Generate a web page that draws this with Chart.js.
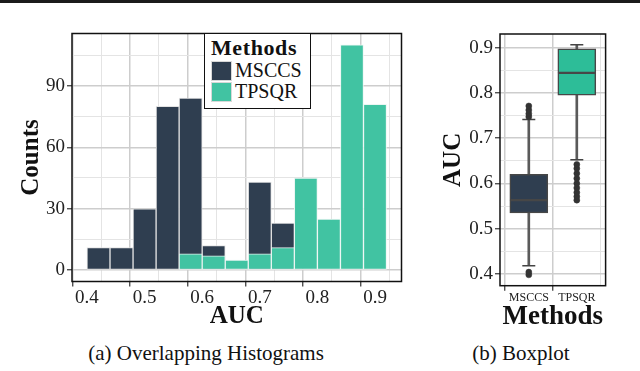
<!DOCTYPE html>
<html>
<head>
<meta charset="utf-8">
<script src="https://cdn.jsdelivr.net/npm/chart.js@4.4.1/dist/chart.umd.min.js"></script>
<style>
  body { margin: 0; background: #fff; width: 640px; height: 371px; position: relative; overflow: hidden; font-family: "Liberation Serif", serif; color: #111; }
  .rule { position: absolute; left: 0; top: 0; width: 640px; height: 3px; background: #1b1b1b; }
  #histCanvas { position: absolute; left: 0; top: 0; }
  #boxCanvas { position: absolute; left: 420px; top: 0; }
  .caption { position: absolute; top: 343px; font-size: 21px; line-height: 21px; transform: translateX(-50%); white-space: nowrap; }
  #legend { position: absolute; left: 204px; top: 33px; width: 107px; height: 76px; box-sizing: border-box; border: 1.5px solid #111; background: #fff; padding: 3px 0 0 6px; }
  #legend .title { font-weight: bold; font-size: 22px; line-height: 22px; letter-spacing: 0.6px; margin-bottom: 1px; }
  #legend .row { display: flex; align-items: center; height: 21px; font-size: 20px; }
  #legend .sw { width: 21px; height: 20px; box-sizing: border-box; border: 1px solid #d8d8d8; margin-right: 3px; }
</style>
</head>
<body>
<div class="rule"></div>
<canvas id="histCanvas" width="415" height="335"></canvas>
<canvas id="boxCanvas" width="220" height="335"></canvas>
<div id="legend"></div>
<div class="caption" style="left:206px">(a) Overlapping Histograms</div>
<div class="caption" style="left:521px">(b) Boxplot</div>

<script>
// ---------------- data ----------------
const methods = ["MSCCS", "TPSQR"];
const methodColors = ["#2f3e50", "#41c3a2"];
const boxColors = ["#2f3e50", "#2dbd98"];

// histogram bins (width 0.04, from 0.40 to 0.92)
const binCenters = [0.42, 0.46, 0.50, 0.54, 0.58, 0.62, 0.66, 0.70, 0.74, 0.78, 0.82, 0.86, 0.90];
const msccsCounts = [11, 11, 30, 80, 84, 12, null, 43, 23, null, null, null, null];
const tpsqrCounts = [null, null, null, null, 8, 7, 5, 8, 11, 45, 25, 110, 81];

const histXTicks = [0.4, 0.5, 0.6, 0.7, 0.8, 0.9];
const histXMinor = [0.45, 0.55, 0.65, 0.75, 0.85];
const histYTicks = [0, 30, 60, 90];
const histYMinor = [15, 45, 75, 105];

// boxplot summaries
const boxLower = [0.418, 0.652];
const boxQ1 = [0.535, 0.795];
const boxMedian = [0.563, 0.844];
const boxQ3 = [0.620, 0.897];
const boxUpper = [0.741, 0.906];
const msccsOutliers = [0.398, 0.404, 0.747, 0.754, 0.762, 0.771];
const tpsqrOutliers = [0.563, 0.571, 0.580, 0.590, 0.600, 0.611, 0.622, 0.633, 0.642];

const boxYTicks = [0.4, 0.5, 0.6, 0.7, 0.8, 0.9];
const boxYMinor = [0.45, 0.55, 0.65, 0.75, 0.85];

// ---------------- helpers ----------------
const FONT = '"Liberation Serif", serif';
const MAJOR_GRID = "#cdcdcd";
const MINOR_GRID = "#e4e4e4";

function isIn(list, v) {
  return list.some((t) => Math.abs(t - v) < 1e-9);
}

const panelBorder = {
  id: "panelBorder",
  afterDatasetsDraw(chart) {
    const { ctx, chartArea: a } = chart;
    ctx.save();
    ctx.strokeStyle = "#111";
    ctx.lineWidth = 1.5;
    ctx.strokeRect(a.left, a.top, a.right - a.left, a.bottom - a.top);
    ctx.restore();
  }
};

function gridFor(major) {
  const maj = (c) => c.tick && isIn(major, c.tick.value);
  return {
    color: (c) => (maj(c) ? MAJOR_GRID : MINOR_GRID),
    lineWidth: (c) => (maj(c) ? 1.5 : 1),
    tickColor: (c) => (maj(c) ? "#333" : "rgba(0,0,0,0)"),
    tickLength: 5,
    tickWidth: 1.2
  };
}

function drawCharts() {
  // ---------------- histogram ----------------
  const histChart = new Chart(document.getElementById("histCanvas"), {
    type: "bar",
    data: {
      datasets: [
        {
          label: methods[0],
          data: binCenters.map((x, i) => ({ x, y: msccsCounts[i] })),
          backgroundColor: methodColors[0],
          borderColor: "rgba(225,225,225,0.95)",
          borderWidth: 1,
          borderSkipped: false,
          order: 1
        },
        {
          label: methods[1],
          data: binCenters.map((x, i) => ({ x, y: tpsqrCounts[i] })),
          backgroundColor: methodColors[1],
          borderColor: "rgba(235,245,242,0.95)",
          borderWidth: 1,
          borderSkipped: false,
          order: 0
        }
      ]
    },
    options: {
      responsive: false,
      animation: false,
      devicePixelRatio: 1,
      events: [],
      layout: { padding: { top: 33.5, right: 13.5, left: 0, bottom: 0 } },
      datasets: { bar: { grouped: false, barPercentage: 1, categoryPercentage: 1 } },
      plugins: { legend: { display: false }, tooltip: { enabled: false } },
      scales: {
        x: {
          type: "linear",
          offset: false,
          min: 0.374,
          max: 0.946,
          afterBuildTicks: (s) => { s.ticks = histXTicks.concat(histXMinor).sort((a, b) => a - b).map((v) => ({ value: v })); },
          afterFit: (s) => { s.height = 53.5; },
          grid: gridFor(histXTicks),
          border: { display: false },
          ticks: {
            autoSkip: false,
            maxRotation: 0,
            padding: 0,
            color: "#222",
            font: { family: FONT, size: 19 },
            callback: (v) => (isIn(histXTicks, v) ? v.toFixed(1) : "")
          },
          title: { display: true, text: "AUC", color: "#111", font: { family: FONT, size: 25, weight: "bold" }, padding: { top: 0, bottom: 3.5 } }
        },
        y: {
          type: "linear",
          min: -5.5,
          max: 115.5,
          afterBuildTicks: (s) => { s.ticks = histYTicks.concat(histYMinor).sort((a, b) => a - b).map((v) => ({ value: v })); },
          afterFit: (s) => { s.width = 72; },
          grid: gridFor(histYTicks),
          border: { display: false },
          ticks: {
            autoSkip: false,
            padding: 2,
            color: "#222",
            font: { family: FONT, size: 19 },
            callback: (v) => (isIn(histYTicks, v) ? String(v) : "")
          },
          title: { display: true, text: "Counts", color: "#111", font: { family: FONT, size: 25, weight: "bold" }, padding: { top: 17, bottom: 0 } }
        }
      }
    },
    plugins: [panelBorder]
  });

  // legend from the histogram datasets
  const legendEl = document.getElementById("legend");
  legendEl.innerHTML = '<div class="title">Methods</div>' +
    histChart.data.datasets.map((d) =>
      '<div class="row"><span class="sw" style="background:' + d.backgroundColor + '"></span>' + d.label + "</div>"
    ).join("");

  // ---------------- boxplot ----------------
  const xPos = methods.map((m, i) => i + 1);

  new Chart(document.getElementById("boxCanvas"), {
    type: "bar",
    data: {
      datasets: [
        {
          type: "line",
          label: "outliers",
          data: msccsOutliers.map((y) => ({ x: xPos[0], y })).concat(tpsqrOutliers.map((y) => ({ x: xPos[1], y }))),
          showLine: false,
          pointStyle: "circle",
          pointRadius: 3,
          pointBackgroundColor: "#333",
          pointBorderColor: "#333",
          pointBorderWidth: 0.5,
          order: 0
        },
        {
          label: "box low",
          data: xPos.map((x, i) => ({ x, y: [boxQ1[i], boxMedian[i]] })),
          backgroundColor: boxColors,
          borderColor: "#474747",
          borderWidth: 1.5,
          borderSkipped: false,
          barThickness: 38,
          order: 1
        },
        {
          label: "box high",
          data: xPos.map((x, i) => ({ x, y: [boxMedian[i], boxQ3[i]] })),
          backgroundColor: boxColors,
          borderColor: "#474747",
          borderWidth: 1.5,
          borderSkipped: false,
          barThickness: 38,
          order: 1
        },
        {
          type: "line",
          label: "caps",
          data: xPos.map((x, i) => ({ x, y: boxLower[i] })).concat(xPos.map((x, i) => ({ x, y: boxUpper[i] }))),
          showLine: false,
          pointStyle: "line",
          pointRadius: 6.5,
          pointBorderColor: "#444",
          pointBorderWidth: 1.5,
          order: 2
        },
        {
          label: "whisker low",
          data: xPos.map((x, i) => ({ x, y: [boxLower[i], boxQ1[i]] })),
          backgroundColor: "#5a5a5a",
          borderWidth: 0,
          barThickness: 2,
          order: 3
        },
        {
          label: "whisker high",
          data: xPos.map((x, i) => ({ x, y: [boxQ3[i], boxUpper[i]] })),
          backgroundColor: "#5a5a5a",
          borderWidth: 0,
          barThickness: 2,
          order: 3
        }
      ]
    },
    options: {
      responsive: false,
      animation: false,
      devicePixelRatio: 1,
      events: [],
      layout: { padding: { top: 34, right: 34.4, left: 0, bottom: 0 } },
      datasets: { bar: { grouped: false } },
      plugins: { legend: { display: false }, tooltip: { enabled: false } },
      scales: {
        x: {
          type: "linear",
          offset: false,
          min: 0.4,
          max: 2.6,
          afterBuildTicks: (s) => { s.ticks = xPos.map((v) => ({ value: v })); },
          afterFit: (s) => { s.height = 49.3; },
          grid: gridFor(xPos),
          border: { display: false },
          ticks: {
            autoSkip: false,
            maxRotation: 0,
            padding: 0,
            color: "#222",
            font: { family: FONT, size: 12 },
            callback: (v) => methods[Math.round(v) - 1]
          },
          title: { display: true, text: "Methods", color: "#111", font: { family: FONT, size: 27, weight: "bold" }, padding: { top: 0, bottom: 1.8 } }
        },
        y: {
          type: "linear",
          min: 0.374,
          max: 0.93,
          afterBuildTicks: (s) => { s.ticks = boxYTicks.concat(boxYMinor).sort((a, b) => a - b).map((v) => ({ value: v })); },
          afterFit: (s) => { s.width = 80; },
          grid: gridFor(boxYTicks),
          border: { display: false },
          ticks: {
            autoSkip: false,
            padding: 2,
            color: "#222",
            font: { family: FONT, size: 19 },
            callback: (v) => (isIn(boxYTicks, v) ? v.toFixed(1) : "")
          },
          title: { display: true, text: "AUC", color: "#111", font: { family: FONT, size: 25, weight: "bold" }, padding: { top: 19, bottom: 0 } }
        }
      }
    },
    plugins: [panelBorder]
  });
}

// make sure the serif faces are ready before the canvas draws text
Promise.all([
  document.fonts.load('19px "Liberation Serif"'),
  document.fonts.load('bold 25px "Liberation Serif"')
]).catch(() => {}).then(drawCharts);
</script>
</body>
</html>
